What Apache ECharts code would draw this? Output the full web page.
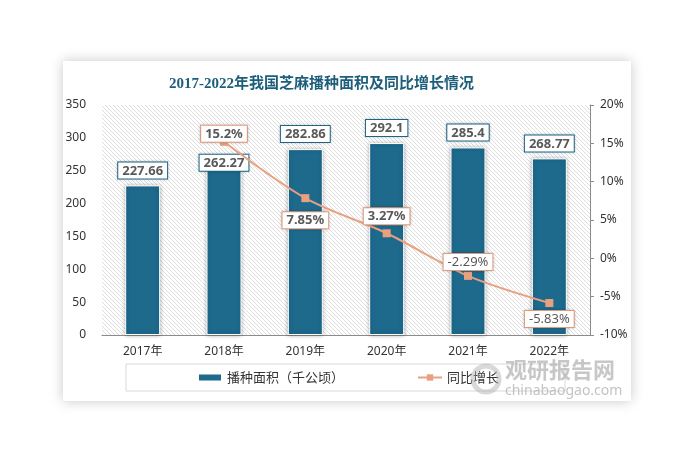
<!DOCTYPE html>
<html><head><meta charset="utf-8">
<script src="https://cdn.jsdelivr.net/npm/echarts@6/dist/echarts.min.js"></script>
<style>html,body{margin:0;padding:0;background:#fff}#c{width:691px;height:460px}</style>
</head><body><div id="c"></div>
<script>
const categories = ['2017年','2018年','2019年','2020年','2021年','2022年'];
const areaValues = [227.66, 262.27, 282.86, 292.1, 285.4, 268.77];
const growthValues = [null, 15.2, 7.85, 3.27, -2.29, -5.83];
const leftTicks = {min: 0, max: 350, interval: 50};
const rightTicks = {min: -10, max: 20, interval: 5};
const titleText = '2017-2022年我国芝麻播种面积及同比增长情况';
const seriesNames = ['播种面积（千公顷）', '同比增长'];

const BAR = '#1d6a8d', LINE = '#e9a080';
const FONT = '"Noto Sans", "Noto Sans CJK SC", sans-serif';

// hatch pattern
const pc = document.createElement('canvas');
pc.width = 4; pc.height = 4;
const px = pc.getContext('2d');
px.fillStyle = '#ffffff'; px.fillRect(0,0,4,4);
px.fillStyle = '#dedede';
for (let i = 0; i < 4; i++) px.fillRect(i, i, 1, 1);

const chart = echarts.init(document.getElementById('c'), null, {renderer: 'canvas'});

const barLabelOffsets = [0, 15, 0, 0, 0, 0];
const lineLabelPos = [null, 'top', 'bottom', 'top', 'top', 'bottom'];
const lineLabelDist = [0, -4, 10, 5, 2, 4];
const lineLabelWeight = [null, 'bold', 'bold', 'bold', 'normal', 'normal'];

chart.setOption({
  backgroundColor: '#fff',
  textStyle: {fontFamily: FONT},
  graphic: [
    {type: 'rect', z: -10, shape: {x: 63, y: 61, width: 568, height: 340},
     style: {fill: '#fff', shadowBlur: 12, shadowColor: 'rgba(0,0,0,0.22)'}},
    {type: 'circle', z: 100, shape: {cx: 486, cy: 379, r: 13},
     style: {fill: 'none', stroke: 'rgba(170,170,170,0.45)', lineWidth: 5}},
    {type: 'text', z: 100, left: 505, top: 359,
     style: {text: '观研报告网', fill: 'rgba(175,175,175,0.7)', font: 'bold 22px "Noto Sans CJK SC"'}},
    {type: 'text', z: 100, left: 505, top: 384,
     style: {text: 'chinabaogao.com', fill: 'rgba(175,175,175,0.75)', font: '14px "Noto Sans"'}}
  ],
  title: {
    text: titleText, left: 164, top: 72,
    textStyle: {fontSize: 15, fontWeight: 'bold', color: '#1d5e7a',
      fontFamily: '"Liberation Serif", "Noto Sans CJK SC", serif'}
  },
  legend: {
    left: 126, top: 364,
    padding: [7, 66, 7, 71],
    borderColor: '#d9d9d9', borderWidth: 1,
    itemGap: 73, itemWidth: 24, itemHeight: 8,
    textStyle: {fontSize: 13, color: '#333', fontFamily: '"Noto Sans CJK SC", sans-serif'},
    data: [{name: seriesNames[0], icon: 'rect'}, {name: seriesNames[1]}]
  },
  grid: {
    left: 102, right: 101, top: 105, bottom: 125,
    show: true, borderWidth: 0,
    backgroundColor: {image: pc, repeat: 'repeat'}
  },
  xAxis: {
    type: 'category', data: categories,
    axisLine: {lineStyle: {color: '#8c8c8c', width: 1}},
    axisTick: {show: false},
    axisLabel: {fontSize: 12, color: '#333', margin: 11}
  },
  yAxis: [
    {type: 'value', min: leftTicks.min, max: leftTicks.max, interval: leftTicks.interval,
     axisLine: {show: false}, axisTick: {show: false}, splitLine: {show: false},
     axisLabel: {fontSize: 12, color: '#333', margin: 16}},
    {type: 'value', min: rightTicks.min, max: rightTicks.max, interval: rightTicks.interval,
     position: 'right',
     axisLine: {show: true, lineStyle: {color: '#8c8c8c'}},
     axisTick: {show: true, inside: false, length: 4, lineStyle: {color: '#8c8c8c'}},
     splitLine: {show: false},
     axisLabel: {fontSize: 12, color: '#333', margin: 10, formatter: '{value}%'}}
  ],
  series: [
    {
      name: seriesNames[0], type: 'bar', barWidth: '43%',
      data: areaValues.map((v, i) => ({value: v, label: {offset: [0, barLabelOffsets[i]]}})),
      itemStyle: {color: BAR, borderColor: '#fff', borderWidth: 1,
        shadowBlur: 4, shadowColor: 'rgba(0,0,0,0.3)'},
      label: {show: true, position: 'top', distance: 7,
        backgroundColor: '#fff', borderColor: BAR, borderWidth: 1, padding: [2, 4, 1, 4],
        color: '#595959', fontWeight: 'bold', fontSize: 13, fontFamily: '"Noto Sans", sans-serif',
        shadowBlur: 3, shadowColor: 'rgba(0,0,0,0.2)'},
      z: 2
    },
    {
      name: seriesNames[1], type: 'line', yAxisIndex: 1, smooth: 0.3,
      symbol: 'rect', symbolSize: 8,
      data: growthValues.map((v, i) => v === null ? null : ({value: v,
        label: {position: lineLabelPos[i], distance: lineLabelDist[i], fontWeight: lineLabelWeight[i]}})),
      lineStyle: {color: LINE, width: 2},
      itemStyle: {color: LINE},
      label: {show: true, formatter: p => p.value + '%',
        backgroundColor: '#fff', borderColor: LINE, borderWidth: 1, padding: [2, 4, 1, 4],
        color: '#595959', fontSize: 13, fontFamily: '"Noto Sans", sans-serif',
        shadowBlur: 3, shadowColor: 'rgba(0,0,0,0.2)'},
      z: 3
    }
  ]
});
</script>
</body></html>
